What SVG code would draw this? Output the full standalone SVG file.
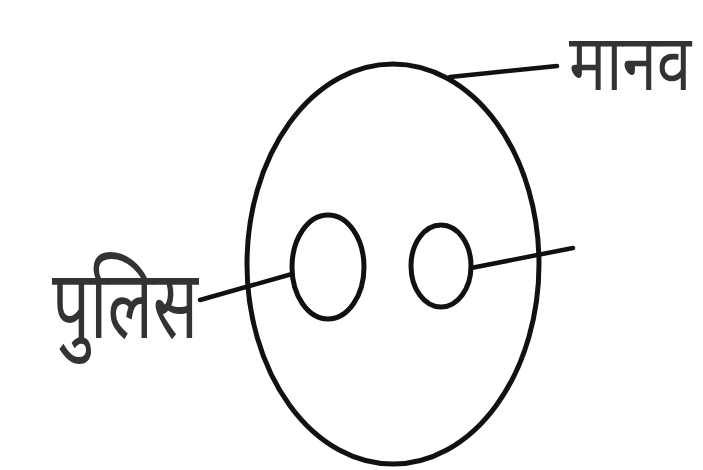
<svg xmlns="http://www.w3.org/2000/svg" width="703" height="470" viewBox="0 0 703 470">
<style>
.s{fill:none;stroke:#111;stroke-width:5}
.c{fill:none;stroke:#111;stroke-width:4.5;stroke-linecap:round}
.t{font-family:"Noto Sans","Noto Sans Devanagari","Lohit Devanagari","FreeSans",sans-serif;fill:#333}
</style>
<rect width="703" height="470" fill="#fff"/>
<g id="manav">
<ellipse class="s" cx="393" cy="264" rx="146" ry="200"/>
<text class="t" transform="translate(569,90) scale(0.72,1)" x="0" y="0" font-size="78" textLength="170" lengthAdjust="spacingAndGlyphs">मानव</text>
</g>
<g id="police">
<ellipse class="s" cx="328" cy="267" rx="36" ry="52"/>
<text class="t" transform="translate(52,338) scale(0.72,1)" x="0" y="0" font-size="96" textLength="203" lengthAdjust="spacingAndGlyphs">पुलिस</text>
</g>
<g id="other">
<ellipse class="s" cx="441" cy="266" rx="30" ry="41"/>
</g>
<g id="connectors">
<line class="c" x1="200" y1="300" x2="292" y2="274"/>
<line class="c" x1="471" y1="268" x2="573" y2="248"/>
<line class="c" x1="450" y1="77" x2="557" y2="66"/>
</g>
</svg>
